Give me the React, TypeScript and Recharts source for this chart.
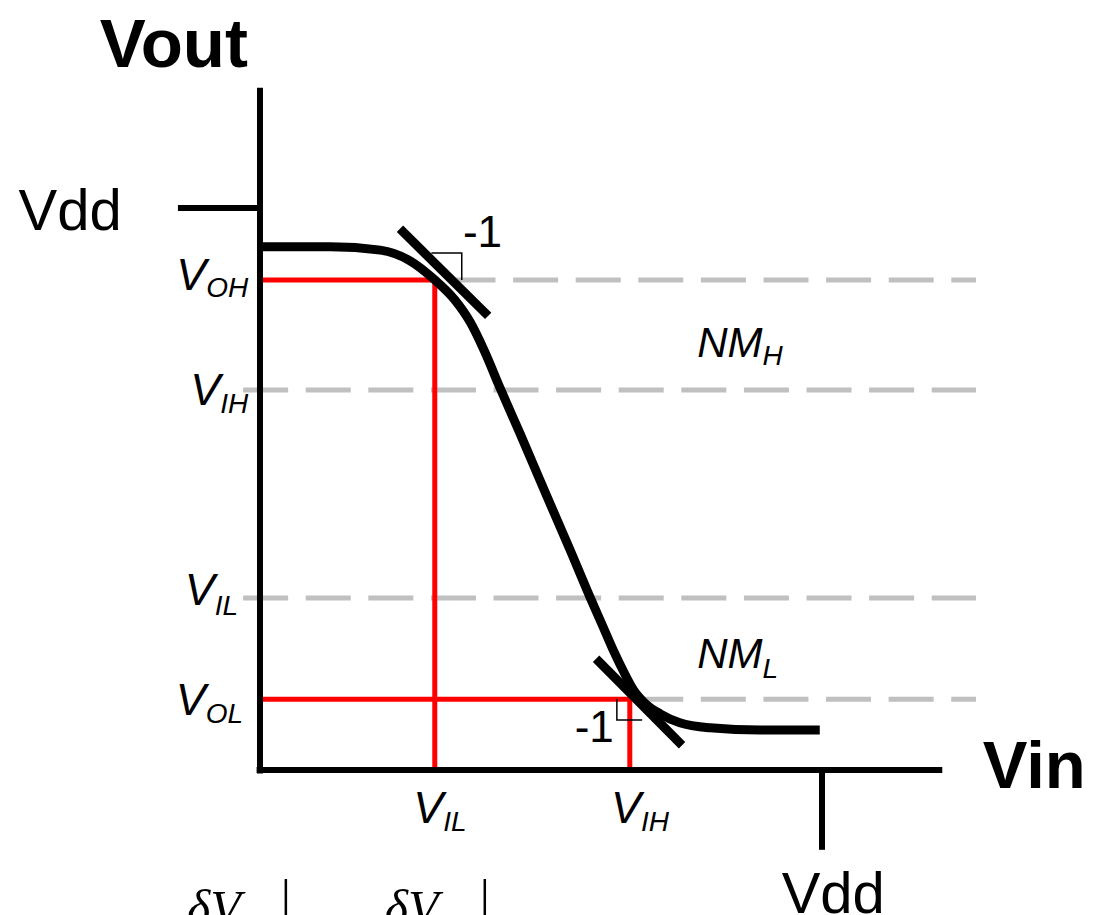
import React from 'react';
import { LineChart, Line, XAxis, YAxis, ReferenceDot } from 'recharts';

// all values in units of Vdd (Vdd = 1)
const vin = [0, 0.125, 0.214, 0.267, 0.311, 0.347, 0.374, 0.4, 0.427, 0.463, 0.507, 0.552, 0.587, 0.609, 0.63, 0.648, 0.665, 0.687, 0.712, 0.747, 0.801, 0.89, 0.996];
const vout = [0.931, 0.931, 0.925, 0.906, 0.872, 0.836, 0.797, 0.744, 0.68, 0.598, 0.495, 0.391, 0.308, 0.258, 0.21, 0.173, 0.142, 0.117, 0.1, 0.084, 0.075, 0.071, 0.071];

const VDD = 1;
const LEVEL_OH = 0.872;
const LEVEL_IH = 0.676;
const LEVEL_IL = 0.306;
const LEVEL_OL = 0.126;
const VIN_IL = 0.311;
const VIN_IH = 0.658;

// slope -1 tangents at the two unity-gain points
const tangentHigh = [[0.249, 0.963], [0.406, 0.808]];
const tangentLow = [[0.598, 0.198], [0.751, 0.044]];

const X_DOMAIN = [-0.4626, 1.4893];
const Y_DOMAIN = [-0.258, 1.3701];

const curve = vin.map((x, i) => ({ x, y: vout[i] }));
const seg = (a: number[], b: number[]) => [{ x: a[0], y: a[1] }, { x: b[0], y: b[1] }];

const dashed = [
  seg([0.339, LEVEL_OH], [1.274, LEVEL_OH]),
  seg([-0.03, LEVEL_IH], [1.274, LEVEL_IH]),
  seg([-0.03, LEVEL_IL], [1.274, LEVEL_IL]),
  seg([0.673, LEVEL_OL], [1.274, LEVEL_OL]),
];

const red = [
  seg([0, LEVEL_OH], [VIN_IL, LEVEL_OH]),
  seg([VIN_IL, LEVEL_OH], [VIN_IL, 0]),
  seg([0, LEVEL_OL], [VIN_IH, LEVEL_OL]),
  seg([VIN_IH, LEVEL_OL], [VIN_IH, 0]),
];

const axes = [
  seg([0, -0.006], [0, 1.214]),
  seg([-0.006, 0], [1.214, 0]),
  seg([-0.146, VDD], [0, VDD]),
  seg([VDD, 0], [VDD, -0.142]),
];

const markers = [
  [{ x: 0.305, y: 0.92 }, { x: 0.359, y: 0.92 }, { x: 0.359, y: LEVEL_OH }],
  [{ x: 0.635, y: LEVEL_OL }, { x: 0.635, y: 0.089 }, { x: 0.68, y: 0.089 }],
];

const bars = [
  seg([0.046, -0.194], [0.046, -0.258]),
  seg([0.4, -0.194], [0.4, -0.258]),
];

const SANS = 'Liberation Sans, Arial, sans-serif';
const SERIF = 'Liberation Serif, Times New Roman, serif';

type TextSpec = {
  main: string;
  sub?: string;
  x: number;
  y: number;
  anchor: 'start' | 'middle' | 'end';
  size: number;
  subSize?: number;
  subDy?: number;
  dy?: number;
  bold?: boolean;
  italic?: boolean;
  family?: string;
};

const texts: TextSpec[] = [
  { main: 'Vout', x: -0.285, y: 1.251, anchor: 'start', size: 69, bold: true },
  { main: 'Vdd', x: -0.246, y: 0.961, anchor: 'end', size: 58 },
  { main: 'Vin', x: 1.286, y: -0.032, anchor: 'start', size: 67, bold: true },
  { main: 'Vdd', x: 1.02, y: -0.25, anchor: 'middle', size: 58, dy: 2 },
  { main: '-1', x: 0.361, y: 0.931, anchor: 'start', size: 44 },
  { main: '-1', x: 0.56, y: 0.05, anchor: 'start', size: 44 },
  { main: 'NM', sub: 'H', x: 0.778, y: 0.735, anchor: 'start', size: 42, subSize: 28, subDy: 8, italic: true },
  { main: 'NM', sub: 'L', x: 0.778, y: 0.181, anchor: 'start', size: 42, subSize: 28, subDy: 10, italic: true },
  { main: 'V', sub: 'OH', x: -0.021, y: 0.854, anchor: 'end', size: 45, subSize: 28, subDy: 7, italic: true },
  { main: 'V', sub: 'IH', x: -0.021, y: 0.649, anchor: 'end', size: 45, subSize: 28, subDy: 8, italic: true },
  { main: 'V', sub: 'IL', x: -0.039, y: 0.294, anchor: 'end', size: 45, subSize: 28, subDy: 10, italic: true },
  { main: 'V', sub: 'OL', x: -0.03, y: 0.098, anchor: 'end', size: 45, subSize: 28, subDy: 8, italic: true },
  { main: 'V', sub: 'IL', x: 0.32, y: -0.094, anchor: 'middle', size: 45, subSize: 28, subDy: 8, italic: true },
  { main: 'V', sub: 'IH', x: 0.676, y: -0.094, anchor: 'middle', size: 45, subSize: 28, subDy: 8, italic: true },
  { main: '\u03b4V', x: -0.13, y: -0.25, anchor: 'start', size: 50, dy: 14, italic: true, family: SERIF },
  { main: '\u03b4V', x: 0.222, y: -0.25, anchor: 'start', size: 50, dy: 14, italic: true, family: SERIF },
];

function renderText(t: TextSpec) {
  return (props: any) => (
    <text
      x={props.cx}
      y={props.cy + (t.dy ?? 0)}
      textAnchor={t.anchor}
      fontFamily={t.family ?? SANS}
      fontSize={t.size}
      fontWeight={t.bold ? 'bold' : 'normal'}
      fontStyle={t.italic ? 'italic' : 'normal'}
      fill="#000"
    >
      <tspan>{t.main}</tspan>
      {t.sub && (
        <tspan fontSize={t.subSize} dy={t.subDy}>
          {t.sub}
        </tspan>
      )}
    </text>
  );
}

const lineProps = { dataKey: 'y', type: 'linear' as const, dot: false, activeDot: false, isAnimationActive: false };

export default function App() {
  return (
    <div style={{ position: 'absolute', left: 0, top: 0, background: '#fff' }}>
      <LineChart width={1097} height={915} margin={{ top: 0, right: 0, bottom: 0, left: 0 }}>
        <XAxis type="number" dataKey="x" domain={X_DOMAIN} allowDataOverflow hide />
        <YAxis type="number" dataKey="y" domain={Y_DOMAIN} allowDataOverflow hide />
        {dashed.map((d, i) => (
          <Line key={`dash-${i}`} {...lineProps} data={d} stroke="#c0c0c0" strokeWidth={5} strokeDasharray="45 17.6" />
        ))}
        {red.map((d, i) => (
          <Line key={`red-${i}`} {...lineProps} data={d} stroke="#ff0000" strokeWidth={5} />
        ))}
        {axes.map((d, i) => (
          <Line key={`axis-${i}`} {...lineProps} data={d} stroke="#000" strokeWidth={6} />
        ))}
        {markers.map((d, i) => (
          <Line key={`mark-${i}`} {...lineProps} data={d} stroke="#000" strokeWidth={1.5} />
        ))}
        <Line {...lineProps} type="monotone" data={curve} stroke="#000" strokeWidth={9} />
        <Line {...lineProps} data={seg(tangentHigh[0], tangentHigh[1])} stroke="#000" strokeWidth={9} />
        <Line {...lineProps} data={seg(tangentLow[0], tangentLow[1])} stroke="#000" strokeWidth={9} />
        {bars.map((d, i) => (
          <Line key={`bar-${i}`} {...lineProps} data={d} stroke="#000" strokeWidth={2.5} />
        ))}
        {texts.map((t, i) => (
          <ReferenceDot key={`txt-${i}`} x={t.x} y={t.y} r={0} ifOverflow="visible" shape={renderText(t)} />
        ))}
      </LineChart>
    </div>
  );
}
